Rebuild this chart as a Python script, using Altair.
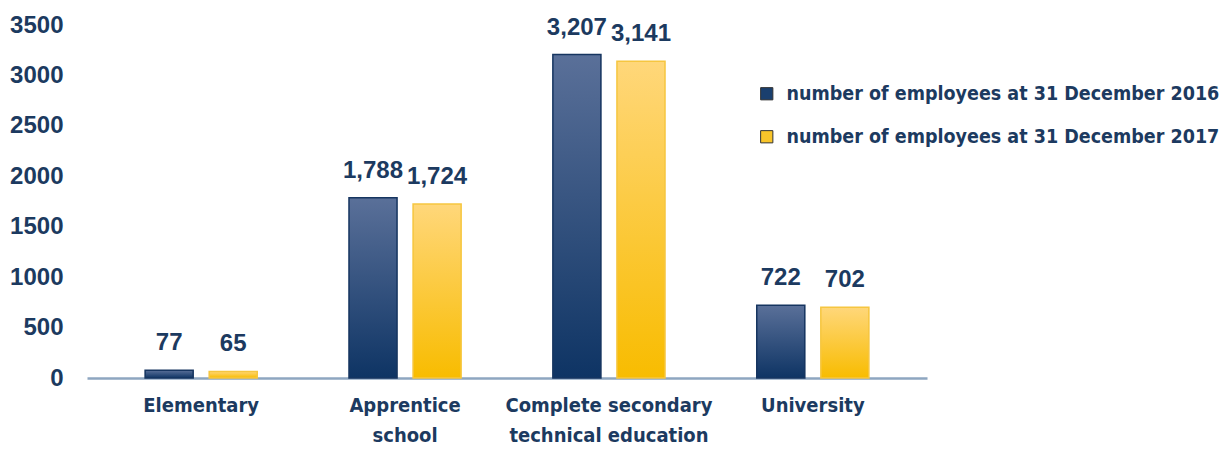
import altair as alt
import pandas as pd

categories = ["Elementary", "Apprentice|school", "Complete secondary|technical education", "University"]
series = ["number of employees at 31 December 2016", "number of employees at 31 December 2017"]
values_2016 = [77, 1788, 3207, 722]
values_2017 = [65, 1724, 3141, 702]

rows = []
for c, v in zip(categories, values_2016):
    rows.append({"category": c, "series": series[0], "value": v})
for c, v in zip(categories, values_2017):
    rows.append({"category": c, "series": series[1], "value": v})
df = pd.DataFrame(rows)

TXT = "#1c3a60"
NUM_FONT = "Liberation Sans"
COND_FONT = "DejaVu Sans Condensed"

x_enc = alt.X(
    "category:N", sort=categories, title=None,
    scale=alt.Scale(paddingInner=0.45, paddingOuter=0.285),
    axis=alt.Axis(
        labelExpr="split(datum.label, '|')", labelAngle=0, ticks=False,
        domainColor="#8ea6c0", domainWidth=2.5, labelFont=COND_FONT,
        labelFontSize=20, labelFontWeight="bold", labelColor=TXT,
        labelPadding=17, labelLineHeight=30, labelBaseline="top", labelLimit=400,
    ),
)
xo_enc = alt.XOffset("series:N", sort=series, scale=alt.Scale(paddingInner=0.25, paddingOuter=0))
y_enc = alt.Y(
    "value:Q", title=None,
    scale=alt.Scale(domain=[0, 3500]),
    axis=alt.Axis(
        values=[0, 500, 1000, 1500, 2000, 2500, 3000, 3500], grid=False, ticks=False,
        domain=False, format="d", labelFont=NUM_FONT, labelFontSize=24, labelFontWeight="bold",
        labelColor=TXT, labelPadding=24, minExtent=74, maxExtent=74,
    ),
)

base = alt.Chart(df).encode(x=x_enc, xOffset=xo_enc, y=y_enc)

solid = base.mark_bar().encode(
    color=alt.Color(
        "series:N", sort=series, title=None,
        scale=alt.Scale(domain=series, range=["#1a3f6e", "#f9c52a"]),
        legend=alt.Legend(
            orient="none", legendX=670, legendY=59, symbolType="square",
            symbolSize=150, symbolStrokeColor="#333333", symbolStrokeWidth=1,
            labelFont=COND_FONT, labelFontSize=19.5, labelColor=TXT,
            labelFontWeight="bold", rowPadding=22, labelLimit=600, labelOffset=10,
        ),
    )
)

grad_dark = alt.Gradient(
    gradient="linear", x1=0, y1=0, x2=0, y2=1,
    stops=[alt.GradientStop(offset=0, color="#5a7099"), alt.GradientStop(offset=1, color="#0e3464")],
)
grad_yel = alt.Gradient(
    gradient="linear", x1=0, y1=0, x2=0, y2=1,
    stops=[alt.GradientStop(offset=0, color="#ffd77a"), alt.GradientStop(offset=1, color="#f8bc00")],
)

dark = base.transform_filter(alt.datum.series == series[0]).mark_bar(
    color=grad_dark, stroke="#163560", strokeWidth=1.5
)
yel = base.transform_filter(alt.datum.series == series[1]).mark_bar(
    color=grad_yel, stroke="#f6c640", strokeWidth=1.5
)

labels = base.mark_text(
    dy=-20, baseline="alphabetic", font=NUM_FONT, fontSize=24, fontWeight="bold", color=TXT
).encode(text=alt.Text("value:Q", format=","))

chart = alt.layer(solid, dark, yel, labels).properties(
    width=840, height=353, background="white",
    padding={"top": 5, "left": 1, "right": 0, "bottom": 0},
).configure_view(stroke=None)

chart.save("out.html", embed_options={"renderer": "svg", "actions": False})
